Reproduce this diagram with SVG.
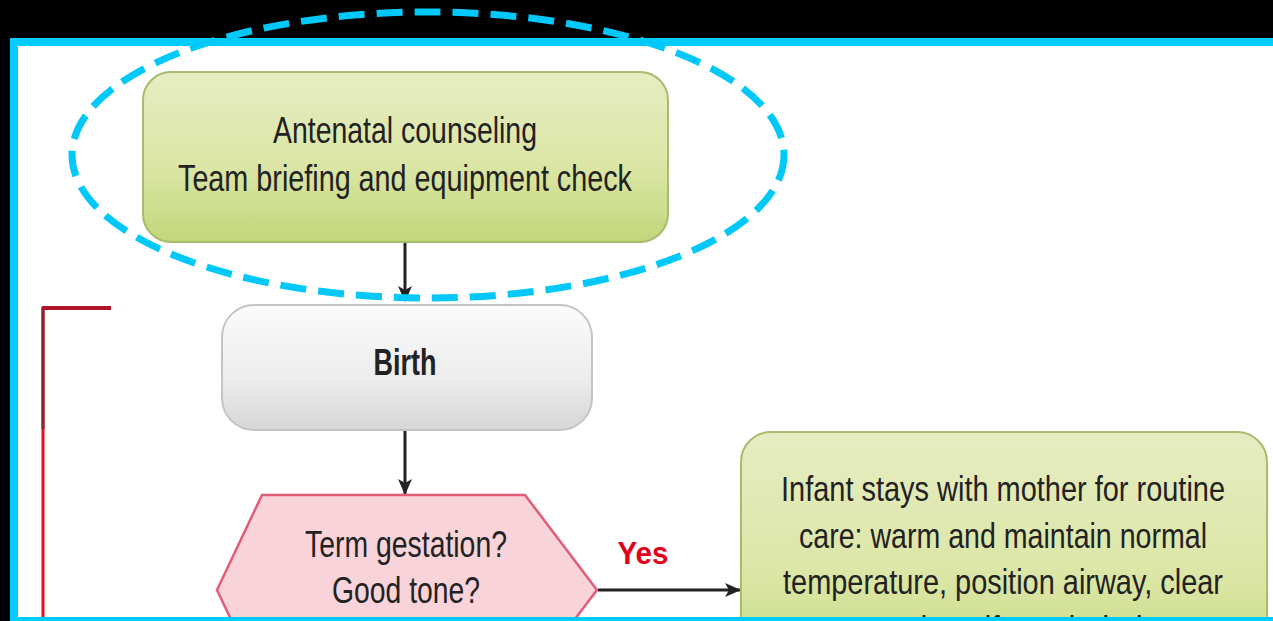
<svg xmlns="http://www.w3.org/2000/svg" width="1273" height="621" viewBox="0 0 1273 621">
  <defs>
    <linearGradient id="gGreen" x1="0" y1="0" x2="0" y2="1">
      <stop offset="0" stop-color="#e6edc2"/>
      <stop offset="0.55" stop-color="#dbe6a6"/>
      <stop offset="1" stop-color="#c3d67a"/>
    </linearGradient>
    <linearGradient id="gGray" x1="0" y1="0" x2="0" y2="1">
      <stop offset="0" stop-color="#fbfbfb"/>
      <stop offset="0.6" stop-color="#ececec"/>
      <stop offset="1" stop-color="#d6d6d6"/>
    </linearGradient>
    <marker id="arrow" viewBox="0 0 16 14" refX="15" refY="7" markerWidth="16" markerHeight="14" markerUnits="userSpaceOnUse" orient="auto">
      <path d="M0,0 L16,7 L0,14 L4,7 Z" fill="#222"/>
    </marker>
    <clipPath id="frameClip">
      <rect x="18" y="46" width="1255" height="571"/>
    </clipPath>
    <style>
      .lbl { font-family: "Liberation Sans", Arial, sans-serif; font-size: 36px; fill: #222; text-anchor: middle; }
      .bold { font-weight: bold; }
      .conn { stroke: #222; stroke-width: 3; fill: none; }
      .green { fill: url(#gGreen); stroke: #a9bb6c; stroke-width: 2; }
    </style>
  </defs>

  <!-- backdrop and frame -->
  <rect x="0" y="0" width="1273" height="621" fill="#000"/>
  <rect x="10" y="38" width="1263" height="583" fill="#00cdfd"/>
  <rect x="18" y="46" width="1255" height="571" fill="#fff"/>

  <!-- red bracket -->
  <g id="bracket" clip-path="url(#frameClip)">
    <line x1="43" y1="307" x2="43" y2="621" stroke="#e8101e" stroke-width="3"/>
    <line x1="43" y1="307" x2="43" y2="429" stroke="#8e2330" stroke-width="3"/>
    <line x1="42" y1="308" x2="111" y2="308" stroke="#b0152a" stroke-width="4"/>
  </g>

  <!-- connectors -->
  <g id="connectors">
    <line class="conn" x1="405" y1="243" x2="405" y2="301" marker-end="url(#arrow)"/>
    <line class="conn" x1="405" y1="431" x2="405" y2="494" marker-end="url(#arrow)"/>
    <line class="conn" x1="598" y1="590" x2="740" y2="590" marker-end="url(#arrow)"/>
    <text class="lbl bold" x="643" y="564" style="fill:#e3001b;font-size:31px" textLength="51" lengthAdjust="spacingAndGlyphs">Yes</text>
  </g>

  <!-- antenatal -->
  <g id="antenatal">
    <rect class="green" x="143" y="72" width="525" height="170" rx="28"/>
    <text class="lbl" x="405" y="143" textLength="264" lengthAdjust="spacingAndGlyphs">Antenatal counseling</text>
    <text class="lbl" x="405" y="191" textLength="454" lengthAdjust="spacingAndGlyphs">Team briefing and equipment check</text>
  </g>

  <!-- birth -->
  <g id="birth">
    <rect x="222" y="305" width="370" height="125" rx="32" fill="url(#gGray)" stroke="#c4c4c4" stroke-width="2"/>
    <text class="lbl bold" x="405" y="375" style="font-size:37px" textLength="63" lengthAdjust="spacingAndGlyphs">Birth</text>
  </g>

  <!-- term question -->
  <g id="term">
    <polygon clip-path="url(#frameClip)" points="262,495 525,495 597,590 525,685 262,685 217,590" fill="#f8d3d9" stroke="#e15c77" stroke-width="2.5"/>
    <text class="lbl" x="406" y="557" textLength="202" lengthAdjust="spacingAndGlyphs">Term gestation?</text>
    <text class="lbl" x="406" y="603" textLength="148" lengthAdjust="spacingAndGlyphs">Good tone?</text>
  </g>

  <!-- routine care: lines narrowed by a horizontal scale -->
  <g id="routine">
    <rect clip-path="url(#frameClip)" class="green" x="741" y="432" width="526" height="260" rx="30"/>
    <text class="lbl" transform="translate(1003 501) scale(0.8 1)" textLength="555" lengthAdjust="spacingAndGlyphs">Infant stays with mother for routine</text>
    <text class="lbl" transform="translate(1003 548) scale(0.8 1)" textLength="510" lengthAdjust="spacingAndGlyphs">care: warm and maintain normal</text>
    <text class="lbl" transform="translate(1003 594) scale(0.8 1)" textLength="550" lengthAdjust="spacingAndGlyphs">temperature, position airway, clear</text>
    <g clip-path="url(#frameClip)">
      <text class="lbl" transform="translate(1003 641) scale(0.8 1)" textLength="412" lengthAdjust="spacingAndGlyphs">secretions if needed, dry</text>
    </g>
  </g>

  <!-- dashed highlight ring -->
  <ellipse cx="428" cy="155" rx="356" ry="143" fill="none" stroke="#00c8fa" stroke-width="7" stroke-dasharray="26 12"/>
</svg>
